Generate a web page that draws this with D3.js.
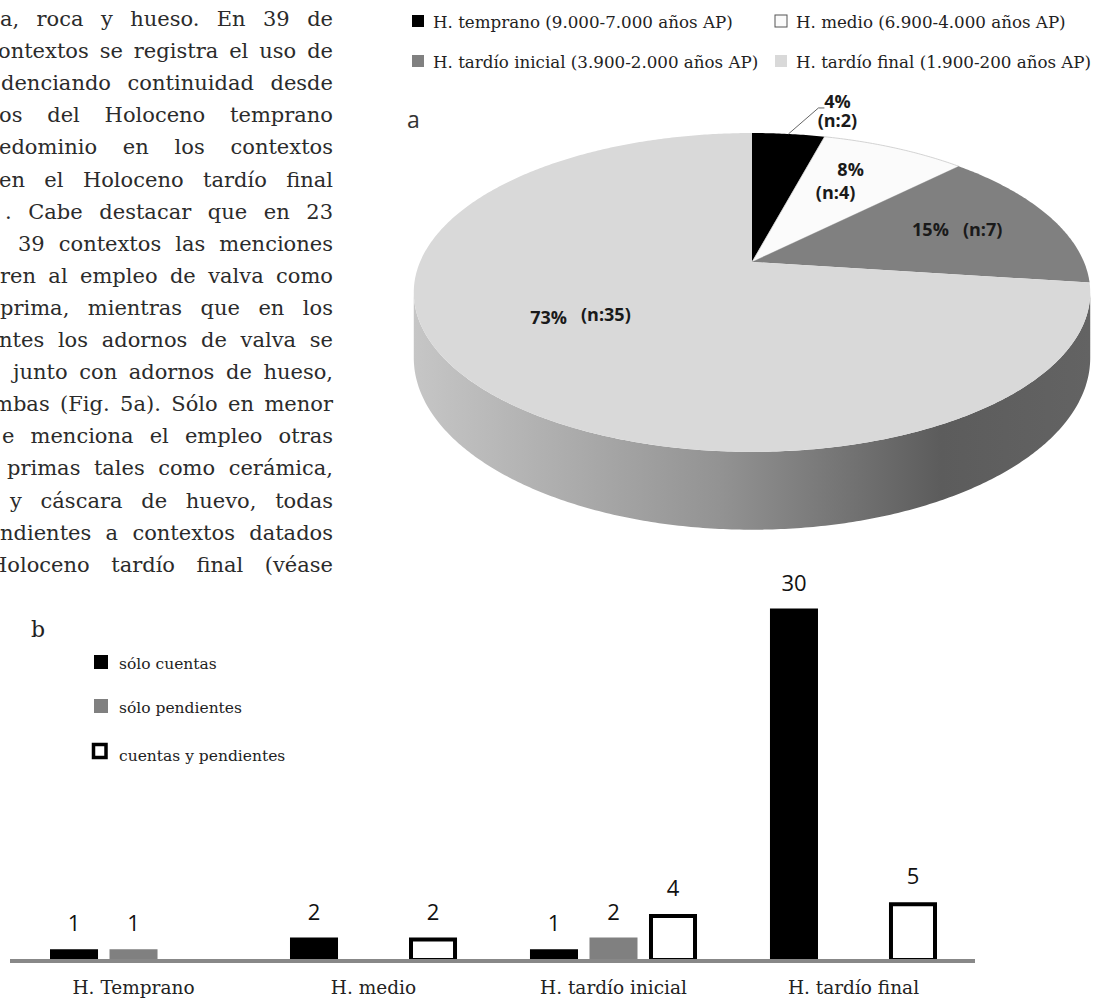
<!DOCTYPE html>
<html>
<head>
<meta charset="utf-8">
<script src="https://cdn.jsdelivr.net/npm/d3@7"></script>
<style>
  html, body { margin: 0; padding: 0; background: #fff; }
  svg { display: block; }
</style>
</head>
<body>
<svg id="fig" width="1103" height="999"></svg>
<script>
// ---------------- DATA ----------------
// Pie (a): contexts per Holocene period
const pieCategories = [
  "H. temprano (9.000-7.000 años AP)",
  "H. medio (6.900-4.000 años AP)",
  "H. tardío inicial (3.900-2.000 años AP)",
  "H. tardío final (1.900-200 años AP)"
];
const pieCounts = [2, 4, 7, 35];
const pieColors = ["#000000", "#fbfbfb", "#808080", "#d9d9d9"];

// Bar chart (b)
const periods = ["H. Temprano", "H. medio", "H. tardío inicial", "H. tardío final"];
const seriesNames = ["sólo cuentas", "sólo pendientes", "cuentas y pendientes"];
const soloCuentas = [1, 2, 1, 30];
const soloPendientes = [1, null, 2, null];
const cuentasYPendientes = [null, 2, 4, 5];

// Surrounding body text (cropped column on the left)
const bodyLines = [
  "a, roca y hueso. En 39 de",
  "ontextos se registra el uso de",
  "denciando continuidad desde",
  "os del Holoceno temprano",
  "edominio en los contextos",
  "en el Holoceno tardío final",
  ". Cabe destacar que en 23",
  "39 contextos las menciones",
  "ren al empleo de valva como",
  "prima, mientras que en los",
  "ntes los adornos de valva se",
  "junto con adornos de hueso,",
  "mbas (Fig. 5a). Sólo en menor",
  "e menciona el empleo otras",
  "primas tales como cerámica,",
  "y cáscara de huevo, todas",
  "ndientes a contextos datados",
  "Holoceno tardío final (véase"
];
const bodyLineStarts = [0, -2, 1, -1, -1, -1, 5, 18, 0, 0, -1, 13, -7, 2, 7, 10, 0, -11];

// ---------------- DRAW ----------------
const svg = d3.select("#fig");
const SERIF = "'DejaVu Serif', serif";
const SANS = "'Open Sans', sans-serif";

// ---- body text, justified to right edge ----
(function () {
  const g = svg.append("g").attr("fill", "#2b2b2b")
    .style("font-family", SERIF).style("font-size", "21px");
  const right = 333, top = 26, lh = 32.1, minGap = 6;
  const meas = g.append("text").attr("x", -1000).attr("y", -1000);
  const wordW = w => { meas.text(w); return meas.node().getComputedTextLength(); };
  bodyLines.forEach((line, i) => {
    const words = line.split(" ");
    const widths = words.map(wordW);
    const total = d3.sum(widths);
    const x0 = bodyLineStarts[i];
    const avail = right - x0;
    let gap = words.length > 1 ? (avail - total) / (words.length - 1) : 0;
    let sx = 1;
    if (gap < minGap) { gap = minGap; sx = (avail - minGap * (words.length - 1)) / total; }
    const lineG = g.append("g").attr("transform", `translate(${x0},${top + lh * i}) scale(${sx},1)`);
    let x = 0;
    const t = lineG.append("text");
    words.forEach((w, j) => {
      t.append("tspan").attr("x", x).text(w);
      x += widths[j] + gap / sx;
    });
  });
  meas.remove();
})();

// ---- Pie legend ----
(function () {
  const lg = svg.append("g").style("font-family", SERIF).style("font-size", "16.7px").attr("fill", "#222");
  const colX = [412, 775], rowY = [28, 68];
  pieCategories.forEach((c, i) => {
    const cx = colX[i % 2], cy = rowY[Math.floor(i / 2)];
    lg.append("rect").attr("x", cx).attr("y", cy - 13).attr("width", 12).attr("height", 12)
      .attr("fill", pieColors[i])
      .attr("stroke", i === 1 ? "#555" : "none").attr("stroke-width", 1);
    lg.append("text").attr("x", cx + 21).attr("y", cy).text(c);
  });
})();

// panel letters
svg.append("text").attr("x", 407).attr("y", 128).style("font-family", SANS)
  .style("font-size", "23px").attr("fill", "#333").text("a");
svg.append("text").attr("x", 31).attr("y", 637).style("font-family", SERIF)
  .style("font-size", "22px").attr("fill", "#222").text("b");

// ---- 3D pie (perspective projection of a tilted disc) ----
(function () {
  const cx = 752, cy = 262, R = 332, Ry = 153.6, P = 0.191, H = 63;
  const proj = (a, r = 1, depth = 0) => {
    const u = Math.sin(a) * r, v = -Math.cos(a) * r;
    const f = 1 / (1 - P * v);
    return [cx + R * u * f, cy + (Ry * v + depth) * f];
  };
  const total = d3.sum(pieCounts);
  const arcs = d3.pie().sort(null).value(d => d)(pieCounts);
  const line = d3.line();
  const sample = (a0, a1, depth) => {
    const n = Math.max(2, Math.ceil((a1 - a0) / 0.01));
    return d3.range(n + 1).map(k => proj(a0 + (a1 - a0) * k / n, 1, depth));
  };

  // side gradient
  const defs = svg.append("defs");
  const sideA0 = Math.acos(-P), sideA1 = 2 * Math.PI - Math.acos(-P);
  arcs.forEach((d, i) => {
    const base = d3.color(pieColors[i]);
    const gr = defs.append("linearGradient").attr("id", "side" + i)
      .attr("gradientUnits", "userSpaceOnUse")
      .attr("x1", cx - R * 1.02).attr("x2", cx + R * 1.02).attr("y1", 0).attr("y2", 0);
    [[0, 0.25], [0.45, 1.1], [0.78, 2.4], [1, 2.2]].forEach(([o, k]) =>
      gr.append("stop").attr("offset", o).attr("stop-color", base.darker(k).formatHex()));
  });

  const pg = svg.append("g");
  // sides (front half only)
  arcs.forEach((d, i) => {
    const a0 = Math.max(d.startAngle, sideA0), a1 = Math.min(d.endAngle, sideA1);
    if (a1 <= a0) return;
    const topPts = sample(a0, a1, 0);
    const botPts = sample(a0, a1, H).reverse();
    pg.append("path").attr("d", line(topPts.concat(botPts)) + "Z")
      .attr("fill", `url(#side${i})`);
  });
  // top faces
  arcs.forEach((d, i) => {
    const pts = [[cx, cy]].concat(sample(d.startAngle, d.endAngle, 0));
    pg.append("path").attr("d", line(pts) + "Z")
      .attr("fill", pieColors[i])
      .attr("stroke", i === 1 ? "#c8c8c8" : "none").attr("stroke-width", 0.8);
  });

  // labels
  const fmt = d3.format(".0%");
  const lab = svg.append("g").style("font-family", SANS).style("font-weight", "700")
    .style("font-size", "18px").attr("fill", "#1a1a1a");
  const layout = [
    { r: 1, dx: 0, dy: 0 },
    { r: 0.6, dx: 0, dy: 0 },
    { r: 0.68, dx: 0, dy: 0 },
    { r: 0.55, dx: -24, dy: -4 }
  ];
  arcs.forEach((d, i) => {
    const mid = (d.startAngle + d.endAngle) / 2;
    const pct = fmt(d.value / total), n = `(n:${d.value})`;
    let [lx, ly] = proj(mid, layout[i].r, 0);
    lx += layout[i].dx; ly += layout[i].dy;
    if (i === 0) {
      const tx = lx + 49;
      svg.append("path").attr("d", line([[lx, ly], [lx + 30, ly - 26], [lx + 36, ly - 26]]))
        .attr("fill", "none").attr("stroke", "#666").attr("stroke-width", 1);
      lab.append("text").attr("x", tx).attr("y", ly - 26).attr("text-anchor", "middle").text(pct);
      lab.append("text").attr("x", tx).attr("y", ly - 7).attr("text-anchor", "middle").text(n);
    } else if (i === 1) {
      lab.append("text").attr("x", lx + 8).attr("y", ly - 13).attr("text-anchor", "middle").text(pct);
      lab.append("text").attr("x", lx - 7).attr("y", ly + 10).attr("text-anchor", "middle").text(n);
    } else {
      const t = lab.append("text").attr("x", lx).attr("y", ly + 6).attr("text-anchor", "middle");
      t.append("tspan").text(pct);
      t.append("tspan").attr("dx", 14).attr("dy", i === 3 ? -3 : 0).text(n);
    }
  });
})();

// ---- Bar chart (b) ----
(function () {
  const series = [soloCuentas, soloPendientes, cuentasYPendientes];
  const styles = [
    { fill: "#000", open: false },
    { fill: "#808080", open: false },
    { fill: "#fff", open: true }
  ];
  const x0 = d3.scaleBand().domain(periods).range([50, 937]).paddingInner(0.304).paddingOuter(0);
  const x1 = d3.scaleBand().domain(seriesNames).range([0, x0.bandwidth()]).paddingInner(0.193).paddingOuter(0);
  const y = d3.scaleLinear().domain([0, 30]).range([961, 608.5]);
  const g = svg.append("g");
  const sw = 4;

  periods.forEach((p, pi) => {
    seriesNames.forEach((s, si) => {
      const v = series[si][pi];
      if (v == null) return;
      const bx = x0(p) + x1(s), bw = x1.bandwidth(), top = y(v);
      if (styles[si].open) {
        g.append("rect").attr("x", bx + sw / 2).attr("y", top + sw / 2)
          .attr("width", bw - sw).attr("height", y(0) - top - sw / 2 - 1)
          .attr("fill", "#fff").attr("stroke", "#000").attr("stroke-width", sw);
      } else {
        g.append("rect").attr("x", bx).attr("y", top).attr("width", bw).attr("height", y(0) - top)
          .attr("fill", styles[si].fill);
      }
      g.append("text").attr("x", bx + bw / 2).attr("y", top - 18).attr("text-anchor", "middle")
        .style("font-family", SANS).style("font-size", "22px").attr("fill", "#111").text(v);
    });
  });

  // baseline
  g.append("line").attr("x1", 10).attr("x2", 975).attr("y1", y(0)).attr("y2", y(0))
    .attr("stroke", "#888").attr("stroke-width", 4);

  // category axis
  const ax = g.append("g").attr("transform", `translate(0,${y(0)})`)
    .call(d3.axisBottom(x0).tickSize(0).tickPadding(20));
  ax.select(".domain").remove();
  ax.selectAll("text").style("font-family", SERIF).style("font-size", "18.5px").attr("fill", "#222");

  // legend
  const lg = svg.append("g").style("font-family", SERIF).style("font-size", "15.5px").attr("fill", "#222");
  const ly = [669, 713, 761];
  seriesNames.forEach((s, i) => {
    if (styles[i].open) {
      lg.append("rect").attr("x", 93.5).attr("y", ly[i] - 16.5).attr("width", 12.5).attr("height", 13)
        .attr("fill", "#fff").attr("stroke", "#000").attr("stroke-width", 3.5);
    } else {
      lg.append("rect").attr("x", 94).attr("y", ly[i] - 14).attr("width", 14).attr("height", 14)
        .attr("fill", styles[i].fill);
    }
    lg.append("text").attr("x", 119).attr("y", ly[i]).text(s);
  });
})();
</script>
</body>
</html>
